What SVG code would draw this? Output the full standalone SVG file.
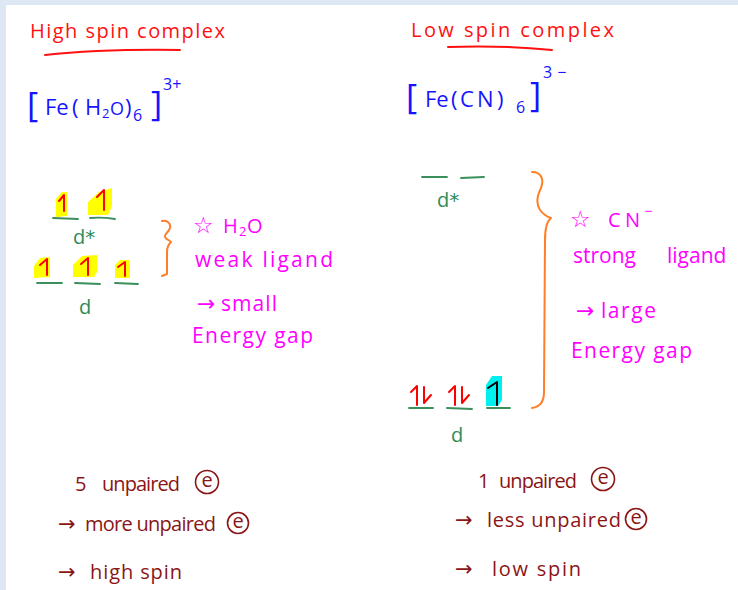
<svg xmlns="http://www.w3.org/2000/svg" width="738" height="590" viewBox="0 0 738 590">
<style>
text{font-family:"Open Sans","DejaVu Sans",sans-serif}
.red{fill:#ff1010;font-size:20px}
.blue{fill:#1414ff}
.mag{fill:#ff00ff;font-size:21px}
.grn{fill:#2e8b57;font-size:20px}
.dr{fill:#8b1515;font-size:20px}
.sym{font-family:"DejaVu Sans",sans-serif}
.lvl{stroke:#3a8f5c;stroke-width:1.8;fill:none;stroke-linecap:round}
.e{stroke:#ff0000;stroke-width:2;fill:none;stroke-linecap:round;stroke-linejoin:round}
.ek{stroke:#000;stroke-width:2;fill:none;stroke-linecap:round;stroke-linejoin:round}
.hl{fill:#ffff00}
.cy{fill:#00f0f0}
.brace{stroke:#ff7f27;stroke-width:2;fill:none;stroke-linecap:round;stroke-linejoin:round}
.uline{stroke:#ff1010;stroke-width:2;fill:none;stroke-linecap:round}
.circ{stroke:#8b1515;stroke-width:1.6;fill:none}
</style>
<rect width="738" height="590" fill="#dde8f4"/>
<rect x="6" y="5" width="732" height="585" fill="#ffffff"/>

<g id="title-high">
<text class="red" x="30" y="38" textLength="195" lengthAdjust="spacing">High spin complex</text>
<path class="uline" d="M45,55 Q100,49 180,50"/>
</g>
<g id="title-low">
<text class="red" x="411" y="37" textLength="203" lengthAdjust="spacing">Low spin complex</text>
<path class="uline" d="M448,47 Q500,45 552,50"/>
</g>

<g id="formula-high">
<text class="blue" font-size="34" x="27" y="117">[</text>
<text class="blue" font-size="22" x="45" y="115">Fe</text>
<text class="blue" font-size="22" x="72" y="115">(</text>
<text class="blue" font-size="22" x="85" y="115">H</text>
<text class="blue" font-size="13" x="102" y="118">2</text>
<text class="blue" font-size="18" x="110" y="115">O</text>
<text class="blue" font-size="22" x="125" y="115">)</text>
<text class="blue" font-size="16" x="133" y="121">6</text>
<text class="blue" font-size="34" x="151" y="116">]</text>
<text class="blue" font-size="16" x="163" y="90">3+</text>
</g>
<g id="formula-low">
<text class="blue" font-size="34" x="406" y="109">[</text>
<text class="blue" font-size="22" x="425" y="107">Fe</text>
<text class="blue" font-size="22" x="451" y="107">(</text>
<text class="blue" font-size="22" x="460" y="107">C</text>
<text class="blue" font-size="22" x="477" y="107">N</text>
<text class="blue" font-size="22" x="497" y="107">)</text>
<text class="blue" font-size="16" x="516" y="113">6</text>
<text class="blue" font-size="34" x="530" y="107">]</text>
<text class="blue" font-size="16" x="543" y="78" letter-spacing="5">3−</text>
</g>

<g id="high-dstar">
<path class="hl" d="M56,199 L62,192 L67,192 L67,216 L56,217 Z"/>
<path class="hl" d="M88,202 L99,192 L112,188 L112,206 L108,215 L88,215 Z"/>
<path class="e" d="M59,201 L64,195 L64,211"/>
<path class="e" d="M97,197 L104,190 L104,210"/>
<path class="lvl" d="M53,218 L78,219"/>
<path class="lvl" d="M90,218 Q102,217 115,219"/>
<text class="grn" x="73" y="244">d<tspan class="sym">*</tspan></text>
</g>
<g id="high-d">
<path class="hl" d="M34,266 L40,258 L50,257 L50,277 L34,278 Z"/>
<path class="hl" d="M73,265 L82,256 L97,255 L97,272 L94,277 L73,277 Z"/>
<path class="hl" d="M115,265 L120,260 L130,260 L130,278 L115,278 Z"/>
<path class="e" d="M40,265 L47,259 L47,275"/>
<path class="e" d="M81,264 L88,258 L88,275"/>
<path class="e" d="M118,267 L125,262 L125,276"/>
<path class="lvl" d="M37,283 L62,283"/>
<path class="lvl" d="M75,283 L100,284"/>
<path class="lvl" d="M115,283 L138,284"/>
<text class="grn" x="79" y="314">d</text>
</g>

<g id="high-note">
<text class="mag" y="233"><tspan class="sym" x="193" font-size="23">☆</tspan><tspan x="223" font-size="20">H</tspan><tspan x="239" dy="3" font-size="13">2</tspan><tspan x="247" dy="-3" font-size="20">O</tspan></text>
<text class="mag" x="195" y="267" textLength="138" lengthAdjust="spacing">weak ligand</text>
<text class="mag" x="197" y="311"><tspan class="sym" font-size="22">→</tspan><tspan x="221" textLength="56" lengthAdjust="spacing">small</tspan></text>
<text class="mag" x="192" y="343" textLength="121" lengthAdjust="spacing">Energy gap</text>
</g>

<g id="low-dstar">
<path class="lvl" d="M422,177 L447,177"/>
<path class="lvl" d="M461,178 L484,177"/>
<text class="grn" x="437" y="207">d<tspan class="sym">*</tspan></text>
</g>
<g id="low-d">
<path class="cy" d="M486,385 L492,376 L502,376 L502,400 L498,406 L486,406 Z"/>
<path class="e" d="M411,392 L417,386 L417,405"/>
<path class="e" d="M424,387 L424,403 L431,395"/>
<path class="e" d="M449,392 L455,386 L455,405"/>
<path class="e" d="M462,387 L462,403 L469,395"/>
<path class="ek" d="M488,388 L497,382 L497,405"/>
<path class="lvl" d="M409,408 L433,408"/>
<path class="lvl" d="M447,408 L472,409"/>
<path class="lvl" d="M487,408 L510,408"/>
<text class="grn" x="451" y="442">d</text>
</g>

<g id="low-note">
<text class="mag" y="227"><tspan class="sym" x="570" font-size="23">☆</tspan><tspan x="608" font-size="20" textLength="32" lengthAdjust="spacing">CN</tspan><tspan x="645" dy="-11" font-size="14">−</tspan></text>
<text class="mag" y="263"><tspan x="573">strong</tspan><tspan x="667">ligand</tspan></text>
<text class="mag" x="576" y="318"><tspan class="sym" font-size="22">→</tspan><tspan x="601" textLength="55" lengthAdjust="spacing">large</tspan></text>
<text class="mag" x="571" y="358" textLength="121" lengthAdjust="spacing">Energy gap</text>
</g>

<g id="connectors">
<path class="brace" d="M162,221 C168,220 171,224 170,228 C169,232 164,234 165,237 C166,240 170,240 171,242 C168,245 167,248 167,252 L167,274 L162,276"/>
<path class="brace" d="M532,172 C542,172 544,180 541,188 C537,196 536,204 540,210 C543,214 548,217 551,218 C546,222 545,230 545,240 L544,392 C544,402 540,407 532,408"/>
</g>

<g id="high-summary">
<text class="dr" y="491"><tspan x="75">5</tspan><tspan x="102" textLength="78" lengthAdjust="spacing">unpaired</tspan></text>
<circle class="circ" cx="207" cy="482" r="11.5"/>
<text class="dr" x="207" y="486.5" font-size="13" text-anchor="middle">e</text>
<text class="dr" y="531"><tspan class="sym" x="58" font-size="21">→</tspan><tspan x="85" textLength="131" lengthAdjust="spacing">more unpaired</tspan></text>
<circle class="circ" cx="238" cy="523" r="10.5"/>
<text class="dr" x="238" y="527.5" font-size="13" text-anchor="middle">e</text>
<text class="dr" y="579"><tspan class="sym" x="58" font-size="21">→</tspan><tspan x="90" textLength="92" lengthAdjust="spacing">high spin</tspan></text>
</g>

<g id="low-summary">
<text class="dr" y="488"><tspan x="478">1</tspan><tspan x="499" textLength="78" lengthAdjust="spacing">unpaired</tspan></text>
<circle class="circ" cx="603" cy="479" r="11.5"/>
<text class="dr" x="603" y="483.5" font-size="13" text-anchor="middle">e</text>
<text class="dr" y="527"><tspan class="sym" x="455" font-size="21">→</tspan><tspan x="487" textLength="134" lengthAdjust="spacing">less unpaired</tspan></text>
<circle class="circ" cx="636" cy="519" r="10.5"/>
<text class="dr" x="636" y="523.5" font-size="13" text-anchor="middle">e</text>
<text class="dr" y="576"><tspan class="sym" x="455" font-size="21">→</tspan><tspan x="492" textLength="89" lengthAdjust="spacing">low spin</tspan></text>
</g>
</svg>
